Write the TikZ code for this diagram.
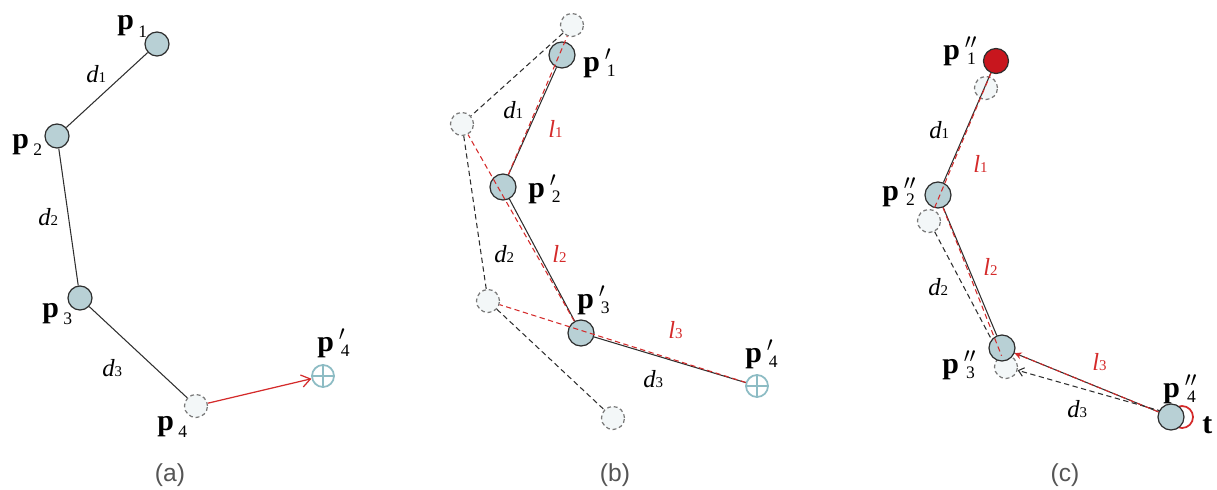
\documentclass[tikz,border=0pt]{standalone}
\usepackage{fontspec}
\setmainfont{Liberation Serif}
\setsansfont{Liberation Sans}
\usetikzlibrary{arrows.meta}
\pgfdeclarelayer{bg}
\pgfsetlayers{bg,main}
\definecolor{jfill}{HTML}{B8D0D5}
\definecolor{jdraw}{HTML}{2E2E2E}
\definecolor{gdraw}{HTML}{7A7A7A}
\definecolor{gfill}{HTML}{F3F7F8}
\definecolor{tcol}{HTML}{8DBCC4}
\definecolor{myred}{HTML}{D42A2A}
\definecolor{rootred}{HTML}{C8161E}
\definecolor{capgray}{HTML}{555555}
\newcommand\pl[1]{\textbf{p}\kern2.5pt\raisebox{-4pt}{\fontsize{10}{10}\selectfont #1}}
\newcommand\pp[2]{\textbf{p}\kern2.8pt\rlap{\raisebox{6pt}{\fontsize{11.5}{11.5}\selectfont$#2$}}\kern1.2pt\raisebox{-3.2pt}{\fontsize{10}{10}\selectfont #1}}
\newcommand\dsub[2]{\textit{#1}{\fontsize{8.5}{8.5}\selectfont\upshape #2}}
\tikzset{
  joint/.style={circle, draw=jdraw, fill=jfill, line width=0.7pt, minimum size=0.48cm, inner sep=0pt},
  jointb/.style={joint, minimum size=0.52cm},
  rootj/.style={joint, fill=rootred, minimum size=0.5cm},
  ghost/.style={circle, draw=gdraw, fill=gfill, dash pattern=on 2.2pt off 1.6pt, line width=0.7pt, minimum size=0.46cm, inner sep=0pt},
  target/.style={circle, draw=tcol, line width=1pt, minimum size=0.44cm, inner sep=0pt},
  tcirc/.style={circle, draw=myred, line width=1pt, minimum size=0.44cm, inner sep=0pt},
  link/.style={draw=jdraw, line width=0.6pt},
  glink/.style={draw=jdraw, line width=0.6pt, dash pattern=on 3pt off 2pt},
  rlink/.style={draw=myred, line width=0.6pt, dash pattern=on 3pt off 2pt},
  lab/.style={inner sep=0pt, anchor=base west, font=\fontsize{17}{17}\selectfont},
  dlab/.style={inner sep=0pt, anchor=base west, font=\fontsize{14}{14}\selectfont},
  rlab/.style={dlab, text=myred},
  caplab/.style={inner sep=0pt, font=\sffamily\fontsize{14}{14}\selectfont, text=capgray}
}
\begin{document}
\begin{tikzpicture}[x=0.02cm, y=-0.02cm]
\useasboundingbox (0,0) rectangle (1217,490);
% ---------- (a)
\node[joint] (a1) at (157,44) {};
\node[joint] (a2) at (57,136) {};
\node[joint] (a3) at (80,298) {};
\node[ghost] (a4) at (196,406) {};
\node[target] (at) at (323,376) {};
\draw[tcol, line width=1pt] (at.north) -- (at.south) (at.west) -- (at.east);
\draw[link] (a1) -- (a2) -- (a3) -- (a4);
\draw[draw=myred, line width=0.7pt, -{Straight Barb[length=5pt,width=7pt]}] (a4) -- (at);
\node[lab] (la1) at (117,30) {\pl{1}};
\node[lab] (la2) at (12,148) {\pl{2}};
\node[lab] (la3) at (42,317) {\pl{3}};
\node[lab] (la4) at (157,430) {\pl{4}};
\node[lab] (lat) at (317,351) {\pp{4}{\prime}};
\node[dlab] (da1) at (86,82) {\dsub{d}{1}};
\node[dlab] (da2) at (38,225) {\dsub{d}{2}};
\node[dlab] (da3) at (102,376) {\dsub{d}{3}};
\node[caplab] (capa) at (170,475) {(a)};
% ---------- (b)
\node[ghost] (bo1) at (572,25) {};
\node[ghost] (bo2) at (462,124) {};
\node[ghost] (bo3) at (488,301) {};
\node[ghost] (bo4) at (613,418) {};
\node[jointb] (b1) at (562,55) {};
\node[jointb] (b2) at (503,187) {};
\node[jointb] (b3) at (581,333) {};
\node[target] (bt) at (757,386) {};
\draw[tcol, line width=1pt] (bt.north) -- (bt.south) (bt.west) -- (bt.east);
\begin{pgfonlayer}{bg}
\draw[glink] (bo1) -- (bo2) -- (bo3) -- (bo4);
\end{pgfonlayer}
\draw[link] (bt) -- (b3) -- (b2) -- (b1);
\draw[rlink] (bt) -- (bo3);
\draw[rlink] (b3) -- (bo2);
\draw[rlink] (b2) -- (bo1);
\node[lab] (lb1) at (583,71) {\pp{1}{\prime}};
\node[lab] (lb2) at (528,197) {\pp{2}{\prime}};
\node[lab] (lb3) at (577,308) {\pp{3}{\prime}};
\node[lab] (lb4) at (745,362) {\pp{4}{\prime}};
\node[dlab] (db1) at (503,118) {\dsub{d}{1}};
\node[rlab] (rb1) at (548,137) {\dsub{l}{1}};
\node[dlab] (db2) at (494,262) {\dsub{d}{2}};
\node[rlab] (rb2) at (552,262) {\dsub{l}{2}};
\node[rlab] (rb3) at (668,338) {\dsub{l}{3}};
\node[dlab] (db3) at (643,387) {\dsub{d}{3}};
\node[caplab] (capb) at (615,475) {(b)};
% ---------- (c)
\node[ghost] (cg1) at (986,88) {};
\node[ghost] (cg2) at (929,221) {};
\node[ghost] (cg3) at (1006,367) {};
\node[tcirc] (ct) at (1182,417) {};
\node[rootj] (c1) at (996,61) {};
\node[jointb] (c2) at (938,195) {};
\node[jointb] (c3) at (1002,348) {};
\node[jointb] (c4) at (1171,417) {};
\begin{pgfonlayer}{bg}
\draw[glink] (cg2) -- (cg3);
\draw[glink, -{Straight Barb[length=3pt,width=5pt]}] (ct) -- (cg3);
\end{pgfonlayer}
\draw[link] (c1) -- (c2) -- (c3) -- (c4);
\draw[rlink] (c1) -- (cg2);
\draw[rlink] (c2) -- (cg3);
\draw[rlink, -{Stealth[length=4pt,width=4pt]}] (c4) -- (c3);
\node[lab] (lc1) at (943,59) {\pp{1}{\prime\prime}};
\node[lab] (lc2) at (882,200) {\pp{2}{\prime\prime}};
\node[lab] (lc3) at (942,373) {\pp{3}{\prime\prime}};
\node[lab] (lc4) at (1163,397) {\pp{4}{\prime\prime}};
\node[lab] (lct) at (1202,433) {\textbf{t}};
\node[dlab] (dc1) at (929,138) {\dsub{d}{1}};
\node[rlab] (rc1) at (973,172) {\dsub{l}{1}};
\node[rlab] (rc2) at (983,275) {\dsub{l}{2}};
\node[dlab] (dc2) at (928,295) {\dsub{d}{2}};
\node[rlab] (rc3) at (1092,370) {\dsub{l}{3}};
\node[dlab] (dc3) at (1067,417) {\dsub{d}{3}};
\node[caplab] (capc) at (1065,475) {(c)};
\end{tikzpicture}
\end{document}
